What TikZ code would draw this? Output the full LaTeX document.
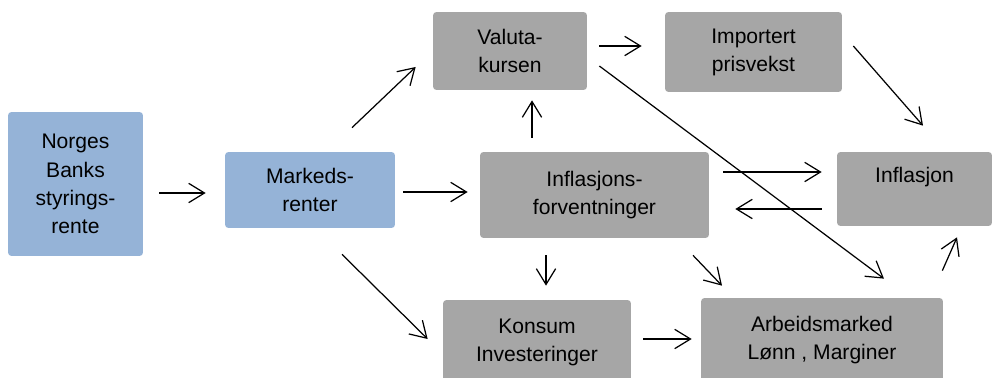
\documentclass[tikz,border=0pt]{standalone}
\usepackage{fontspec}
\setmainfont{Liberation Sans}
\usetikzlibrary{calc,arrows.meta}
\definecolor{boxblue}{HTML}{95B3D7}
\definecolor{boxgray}{HTML}{A6A6A6}
\tikzset{
  box/.style={rounded corners=2pt, align=center, inner sep=0pt, font=\fontsize{12}{16}\selectfont},
  bluebox/.style={box, fill=boxblue},
  graybox/.style={box, fill=boxgray},
  arr/.style={-{Straight Barb[length=9pt,width=11pt]}, line width=0.7pt},
}
\begin{document}
\begin{tikzpicture}[x=0.02cm,y=-0.02cm]
\useasboundingbox (0,0) rectangle (997,378);
\clip (0,0) rectangle (997,378);

\node[bluebox, minimum width=2.7cm, minimum height=2.88cm] (norges) at (75.5,184) {Norges\\Banks\\styrings-\\rente};
\node[bluebox, minimum width=3.4cm, minimum height=1.52cm] (markeds) at (310,190) {Markeds-\\renter};
\node[graybox, minimum width=3.08cm, minimum height=1.56cm] (valuta) at (510,51) {Valuta-\\kursen};
\node[graybox, minimum width=3.54cm, minimum height=1.6cm] (importert) at (753.5,52) {Importert\\prisvekst};
\node[graybox, minimum width=4.58cm, minimum height=1.72cm] (forvent) at (594.5,195) {Inflasjons-\\forventninger};
\node[graybox, minimum width=3.1cm, minimum height=1.48cm] (inflasjon) at (914.5,189) {Inflasjon\\\mbox{}};
\node[graybox, minimum width=3.76cm, minimum height=1.68cm] (konsum) at (537,342) {Konsum\\Investeringer};
\node[graybox, minimum width=4.84cm, minimum height=1.68cm] (arbeids) at (822,340) {Arbeidsmarked\\Lønn , Marginer};

\draw[arr] ($(norges.east)+(16,9)$) -- ($(markeds.west)+(-19,3)$);
\draw[arr] ($(markeds.north)+(42,-24)$) -- ($(valuta.west)+(-17,16)$);
\draw[arr] ($(markeds.east)+(8,2)$) -- ($(forvent.west)+(-12,-3)$);
\draw[arr] ($(markeds.south)+(32,26)$) -- ($(konsum.west)+(-15,-3)$);
\draw[arr] ($(valuta.east)+(12,-5)$) -- ($(importert.west)+(-23,-6)$);
\draw[arr] ($(valuta.east)+(12,15)$) -- ($(arbeids.north)+(62,-19)$);
\draw[arr] ($(importert.east)+(11,-6)$) -- ($(inflasjon.north)+(8.5,-26)$);
\draw[arr] ($(forvent.north)+(-62.5,-14)$) -- ($(valuta.south)+(22,10)$);
\draw[arr] ($(forvent.east)+(14,-23)$) -- ($(inflasjon.west)+(-15,-17)$);
\draw[arr] ($(inflasjon.west)+(-15,20)$) -- ($(forvent.east)+(26,14)$);
\draw[arr] ($(forvent.south)+(-48.5,17)$) -- ($(konsum.north)+(9,-14)$);
\draw[arr] ($(forvent.south)+(98.5,17)$) -- ($(arbeids.north)+(-100,-12)$);
\draw[arr] ($(konsum.east)+(12,-3)$) -- ($(arbeids.west)+(-9,-1)$);
\draw[arr] ($(arbeids.north east)+(-1,-27)$) -- ($(inflasjon.south)+(42.5,11)$);
\end{tikzpicture}
\end{document}
